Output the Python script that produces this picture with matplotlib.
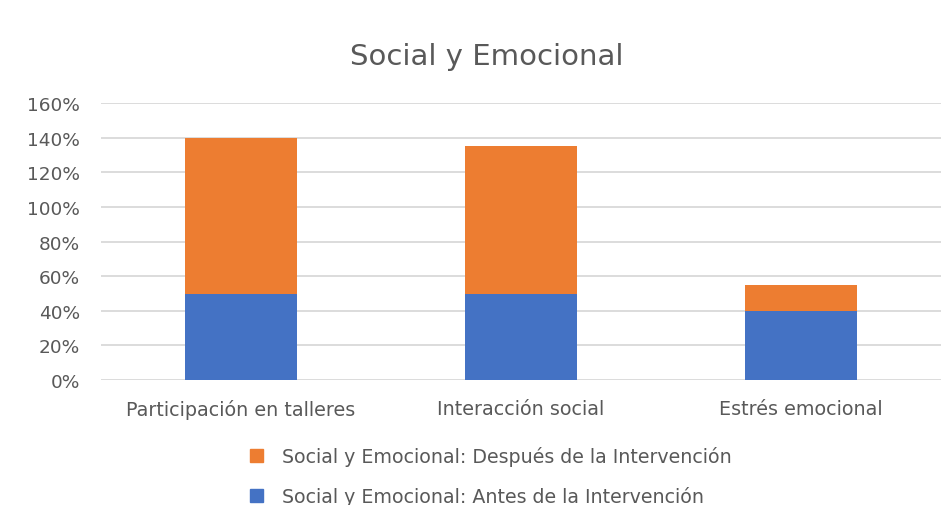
import matplotlib
matplotlib.use("Agg")
import matplotlib.pyplot as plt
from matplotlib.ticker import FuncFormatter
from matplotlib.patches import Patch

categories = ["Participación en talleres", "Interacción social", "Estrés emocional"]
antes = [0.50, 0.50, 0.40]
despues = [0.90, 0.85, 0.15]
yticks = [0, 0.2, 0.4, 0.6, 0.8, 1.0, 1.2, 1.4, 1.6]
label_antes = "Social y Emocional: Antes de la Intervención"
label_despues = "Social y Emocional: Después de la Intervención"
title = "Social y Emocional"

blue = "#4472C4"
orange = "#ED7D31"
grey = "#595959"
font = "DejaVu Sans"

fig = plt.figure(figsize=(9.48, 5.06), dpi=100)
ax = fig.add_axes([0.1065, 0.247, 0.886, 0.547])
x = list(range(len(categories)))
ax.bar(x, antes, width=0.4, color=blue, zorder=3)
ax.bar(x, despues, width=0.4, bottom=antes, color=orange, zorder=3)
ax.set_xlim(-0.5, 2.5)
ax.set_ylim(0, 1.6)
ax.set_yticks(yticks)
ax.yaxis.set_major_formatter(FuncFormatter(lambda v, p: f"{v*100:.0f}%"))
ax.grid(axis="y", color="#d9d9d9", linewidth=1.3, zorder=0)
for s in ax.spines.values():
    s.set_visible(False)
ax.tick_params(axis="both", length=0, colors=grey)
ax.tick_params(axis="y", pad=15, labelsize=13.3)
ax.tick_params(axis="x", pad=14, labelsize=13.8)
ax.set_xticks(x)
ax.set_xticklabels(categories, fontfamily=font)
for lab in ax.get_yticklabels():
    lab.set_fontfamily(font)

fig.text(0.513, 0.887, title, ha="center", va="center", fontsize=21, color=grey, fontfamily=font)

handles = [Patch(color=orange, label=label_despues), Patch(color=blue, label=label_antes)]
fig.legend(handles=handles, loc="center left", bbox_to_anchor=(0.246, 0.057), frameon=False,
           prop={"family": font, "size": 13.7}, labelcolor=grey, handlelength=0.65, handleheight=0.65,
           handletextpad=1.0, labelspacing=1.05)

fig.savefig("out.png", dpi=100)
